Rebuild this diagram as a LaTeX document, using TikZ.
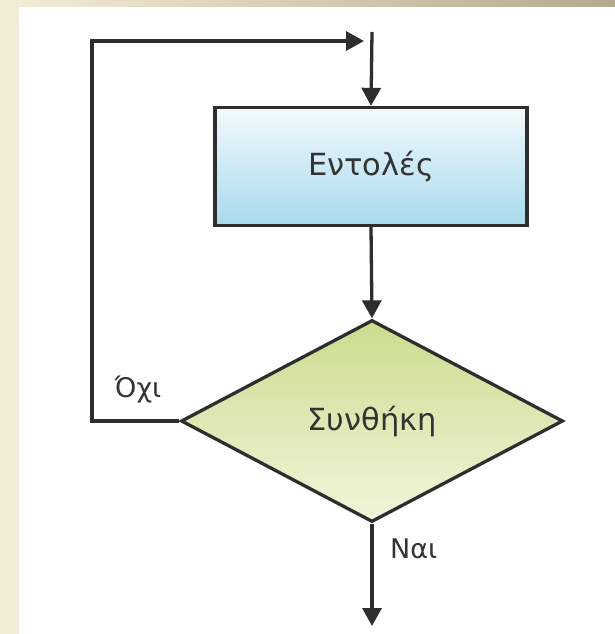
\documentclass[tikz,border=0pt]{standalone}
\usepackage{fontspec}
\setmainfont{DejaVu Sans}
\usetikzlibrary{shapes.geometric,arrows.meta}
\definecolor{bgl}{HTML}{F4EDD7}
\definecolor{bgr}{HTML}{B3AA91}
\definecolor{linec}{HTML}{2E2E2E}
\definecolor{txt}{HTML}{333333}
\definecolor{boxtop}{HTML}{F2F9FC}
\definecolor{boxbot}{HTML}{A8DAEC}
\definecolor{dtop}{HTML}{C9DC8E}
\definecolor{dbot}{HTML}{F1F5DA}
\tikzset{
  conn/.style={draw=linec,line width=3.3pt},
  arr/.style={conn,-{Triangle[length=18pt,width=19pt]}},
  lbl/.style={text=txt,font=\fontsize{27}{30}\selectfont,inner sep=0pt},
  inlbl/.style={text=txt,font=\fontsize{30.5}{34}\selectfont,inner sep=0pt}
}
\begin{document}
\begin{tikzpicture}[x=1pt,y=-1pt]
\useasboundingbox (0,0) rectangle (615,634);
\shade[left color=bgl,right color=bgr] (0,0) rectangle (615,634);
\fill[white] (19,7) rectangle (615,634);
\node[draw=linec,line width=3.3pt,top color=boxtop,bottom color=boxbot,
  minimum width=312pt,minimum height=118pt,inner sep=0pt,inlbl] (box) at (371,166.5) {Εντολές};
\node[diamond,draw=linec,line width=3.3pt,top color=dtop,bottom color=dbot,
  minimum width=382pt,minimum height=202pt,inner sep=0pt,inlbl] (cond) at (372,421) {Συνθήκη};
\coordinate (start) at (372,32);
\coordinate (end) at (372,626);
\coordinate (bl) at (92,421);
\coordinate (tl) at (92,41);
\coordinate (tr) at (364,41);
\draw[arr] (start) -- (box.north);
\draw[arr] (box.south) -- (cond.north);
\draw[arr] (cond.west) -- (bl) -- (tl) -- (tr);
\draw[arr] (cond.south) -- (end);
\node[lbl,anchor=center] (no) at (138,390) {Όχι};
\node[lbl,anchor=base west] (yes) at (390,558) {Ναι};
\end{tikzpicture}
\end{document}
